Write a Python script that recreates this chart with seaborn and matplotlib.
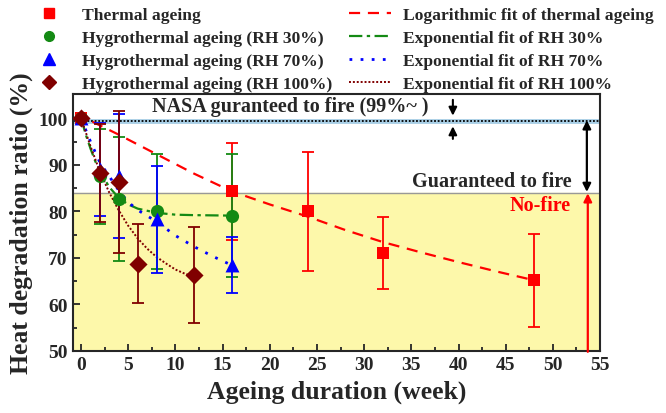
import matplotlib
matplotlib.use('Agg')
import matplotlib.pyplot as plt
import seaborn as sns
from matplotlib.lines import Line2D

# measured points
th_x = [0, 16, 24, 32, 48]
th_y = [100, 84.3, 80.0, 71.1, 65.2]
th_err = [0, 10.5, 12.8, 7.7, 10.0]

rh30_x = [0, 2, 4, 8, 16]
rh30_y = [100, 87.6, 82.7, 80.0, 79.1]
rh30_err = [0, 10.2, 13.3, 12.4, 13.3]

rh70_x = [0, 2, 4, 8, 16]
rh70_y = [100, 89.1, 87.6, 78.3, 68.5]
rh70_err = [0, 10.0, 13.3, 11.5, 6.0]

rh100_x = [0, 2, 4, 6, 12]
rh100_y = [100, 88.3, 86.3, 68.7, 66.3]
rh100_err = [0, 10.5, 15.3, 8.5, 10.3]

# fitted curves
fit_th_x = [1.2, 4, 8, 12, 16, 20, 24, 28, 32, 36, 40, 44, 48]
fit_th_y = [99.3, 96.5, 92.3, 88.1, 84.3, 81.5, 78.9, 76.0, 73.4, 71.2, 69.1, 67.1, 65.2]
fit_30_x = [0, 0.5, 1, 1.5, 2, 3, 4, 5, 6, 8, 10, 12, 16]
fit_30_y = [100, 96.5, 93.5, 90.8, 88.6, 85.2, 82.9, 81.5, 80.6, 79.7, 79.3, 79.2, 79.1]
fit_70_x = [0, 1, 2, 3, 4, 5, 6, 8, 10, 12, 14, 16]
fit_70_y = [100, 95.0, 90.5, 87.5, 84.5, 82.0, 80.3, 77.8, 74.8, 72.4, 70.3, 68.4]
fit_100_x = [0, 1, 2, 3, 4, 5, 6, 7, 8, 9, 10, 11, 12]
fit_100_y = [100, 94.0, 88.5, 84.0, 80.2, 76.9, 74.2, 72.0, 70.2, 68.8, 67.5, 66.6, 66.0]

labels = ['Thermal ageing', 'Hygrothermal ageing (RH 30%)',
          'Hygrothermal ageing (RH 70%)', 'Hygrothermal ageing (RH 100%)',
          'Logarithmic fit of thermal ageing', 'Exponential fit of RH 30%',
          'Exponential fit of RH 70%', 'Exponential fit of RH 100%']

nasa_level = 99.4
fire_level = 84

sns.set_style('ticks')
plt.rcParams['font.family'] = ['Liberation Serif', 'DejaVu Serif']
plt.rcParams['font.weight'] = 'bold'

fig = plt.figure(figsize=(6.66, 4.14), dpi=100)
ax = fig.add_axes([0.109, 0.150, 0.792, 0.621])

red, green, blue, wine = '#ff0000', '#148a14', '#0000ff', '#800000'

ax.axhspan(50, fire_level, color='#fdf8aa', zorder=0)
ax.axhline(fire_level, color='#999999', lw=1.0, zorder=1)
ax.axhline(nasa_level, color='#a9cfe6', lw=3.5, zorder=1)
ax.axhline(nasa_level, color='black', lw=1.3, ls=(0, (1, 1)), zorder=2)

fits = [(fit_th_x, fit_th_y, red, 1.6, (5, 3.5)),
        (fit_30_x, fit_30_y, green, 1.6, (6, 2, 1.5, 2)),
        (fit_70_x, fit_70_y, blue, 2.0, (1, 3)),
        (fit_100_x, fit_100_y, wine, 1.4, (1, 1))]
fit_lines = []
for fx, fy, c, lw, d in fits:
    sns.lineplot(x=fx, y=fy, color=c, lw=lw, sort=False, ax=ax, zorder=3)
    ln = ax.lines[-1]
    ln.set_dashes(d)
    fit_lines.append(ln)

series = [(th_x, th_y, th_err, red, 's', 80),
          (rh30_x, rh30_y, rh30_err, green, 'o', 90),
          (rh70_x, rh70_y, rh70_err, blue, '^', 100),
          (rh100_x, rh100_y, rh100_err, wine, 'D', 85)]
for sx, sy, se, c, m, s in series:
    ax.errorbar(sx[1:], sy[1:], yerr=se[1:], fmt='none', ecolor=c, elinewidth=1.3,
                capsize=4, capthick=1.3, zorder=4)
for sx, sy, se, c, m, s in series:
    sns.scatterplot(x=sx, y=sy, color=c, marker=m, s=s, linewidth=0, ax=ax, zorder=5)

# annotations
ax.text(22.2, 102.6, 'NASA guranteed to fire (99%~ )', ha='center', va='center',
        fontsize=14.5, fontweight='bold')
ax.annotate('', xy=(39.4, 100.0), xytext=(39.4, 104.6),
            arrowprops=dict(arrowstyle='-|>', color='black', lw=1.5, mutation_scale=12))
ax.annotate('', xy=(39.4, 98.9), xytext=(39.4, 95.0),
            arrowprops=dict(arrowstyle='-|>', color='black', lw=1.5, mutation_scale=12))
ax.annotate('', xy=(53.6, 99.6), xytext=(53.6, 84.2),
            arrowprops=dict(arrowstyle='<|-|>', color='black', lw=1.6, mutation_scale=12,
                            shrinkA=0, shrinkB=0))
ax.annotate('', xy=(53.7, 83.9), xytext=(53.7, 49.8),
            arrowprops=dict(arrowstyle='-|>', color=red, lw=1.6, mutation_scale=12,
                            shrinkA=0, shrinkB=0))
ax.text(52.0, 86.6, 'Guaranteed to fire', ha='right', va='center', fontsize=14.5,
        fontweight='bold')
ax.text(51.9, 81.3, 'No-fire', ha='right', va='center', fontsize=14.5,
        fontweight='bold', color=red)

ax.set_xlim(-0.9, 55)
ax.set_ylim(50, 105.3)
ax.set_xticks(range(0, 56, 5))
ax.set_xticks([x + 2.5 for x in range(0, 55, 5)], minor=True)
ax.set_yticks(range(50, 101, 10))
ax.set_yticks(range(55, 101, 10), minor=True)
ax.tick_params(which='both', direction='in', labelsize=14, width=1.3)
ax.tick_params(which='major', length=5)
ax.tick_params(which='minor', length=3)
for lab in ax.get_xticklabels() + ax.get_yticklabels():
    lab.set_fontweight('bold')
for sp in ax.spines.values():
    sp.set_linewidth(1.5)
    sp.set_visible(True)

ax.set_xlabel('Ageing duration (week)', fontsize=18.5, fontweight='bold', labelpad=5)
ax.set_ylabel('Heat degradation ratio (%)', fontsize=18.5, fontweight='bold', labelpad=4)

mk = [Line2D([], [], ls='none', marker=m, color=c, markersize=7 if m != '^' else 8)
      for _, _, _, c, m, _ in series]
fig.legend(mk + fit_lines, labels, ncol=2, loc='upper left', bbox_to_anchor=(0.018, 1.02),
           frameon=False, prop={'weight': 'bold', 'size': 12.6},
           handlelength=2.4, handletextpad=0.7, columnspacing=0.95, labelspacing=0.40)

fig.savefig('out.png', dpi=100)
